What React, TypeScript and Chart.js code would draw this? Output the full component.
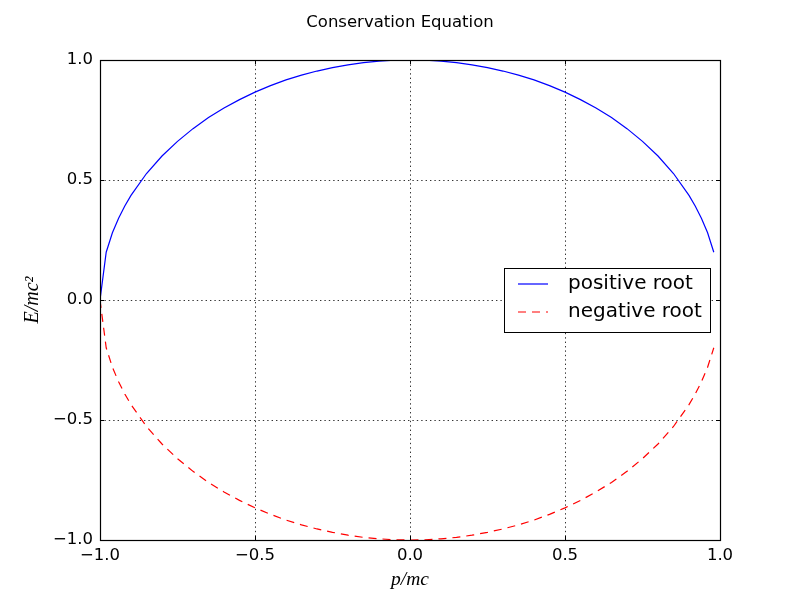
import { useEffect, useRef } from "react"
import { Chart, registerables } from "chart.js"

Chart.register(...registerables)

// momentum p/mc, sampled along the curve
const momentum = [
  -1.0, -0.98, -0.96, -0.94, -0.92, -0.9, -0.85, -0.8, -0.75, -0.7, -0.65, -0.6, -0.55, -0.5,
  -0.45, -0.4, -0.35, -0.3, -0.25, -0.2, -0.15, -0.1, -0.05, 0.0, 0.05, 0.1, 0.15, 0.2, 0.25,
  0.3, 0.35, 0.4, 0.45, 0.5, 0.55, 0.6, 0.65, 0.7, 0.75, 0.8, 0.85, 0.9, 0.92, 0.94, 0.96, 0.98,
]

const positiveRoot = [
  0.0, 0.199, 0.28, 0.341, 0.392, 0.436, 0.527, 0.6, 0.661, 0.714, 0.76, 0.8, 0.835, 0.866,
  0.893, 0.917, 0.937, 0.954, 0.968, 0.98, 0.989, 0.995, 0.999, 1.0, 0.999, 0.995, 0.989, 0.98,
  0.968, 0.954, 0.937, 0.917, 0.893, 0.866, 0.835, 0.8, 0.76, 0.714, 0.661, 0.6, 0.527, 0.436,
  0.392, 0.341, 0.28, 0.199,
]

const negativeRoot = [
  -0.0, -0.199, -0.28, -0.341, -0.392, -0.436, -0.527, -0.6, -0.661, -0.714, -0.76, -0.8, -0.835,
  -0.866, -0.893, -0.917, -0.937, -0.954, -0.968, -0.98, -0.989, -0.995, -0.999, -1.0, -0.999,
  -0.995, -0.989, -0.98, -0.968, -0.954, -0.937, -0.917, -0.893, -0.866, -0.835, -0.8, -0.76,
  -0.714, -0.661, -0.6, -0.527, -0.436, -0.392, -0.341, -0.28, -0.199,
]

const seriesLabels = ["positive root", "negative root"]
const xTicks = [-1.0, -0.5, 0.0, 0.5, 1.0]
const yTicks = [-1.0, -0.5, 0.0, 0.5, 1.0]

const SANS = "'DejaVu Sans', sans-serif"
const SERIF = "'Liberation Serif', 'DejaVu Serif', serif"

const fmt = (v: number) => v.toFixed(1).replace("-", "\u2212")

// frame, inward ticks, title and legend drawn the matplotlib way
const decorations = {
  id: "decorations",
  afterDraw(chart: Chart) {
    const { ctx, chartArea: a } = chart
    const xs = chart.scales.x
    const ys = chart.scales.y
    ctx.save()
    ctx.strokeStyle = "#000"
    ctx.lineWidth = 1.2
    ctx.strokeRect(a.left + 0.5, a.top + 0.5, a.right - a.left, a.bottom - a.top)
    ctx.lineWidth = 1
    ctx.beginPath()
    for (const t of xTicks) {
      const px = Math.round(xs.getPixelForValue(t)) + 0.5
      ctx.moveTo(px, a.bottom)
      ctx.lineTo(px, a.bottom - 4)
      ctx.moveTo(px, a.top)
      ctx.lineTo(px, a.top + 4)
    }
    for (const t of yTicks) {
      const py = Math.round(ys.getPixelForValue(t)) + 0.5
      ctx.moveTo(a.left, py)
      ctx.lineTo(a.left + 4, py)
      ctx.moveTo(a.right, py)
      ctx.lineTo(a.right - 4, py)
    }
    ctx.stroke()

    ctx.fillStyle = "#000"
    ctx.font = `16.5px ${SANS}`
    ctx.textAlign = "center"
    ctx.textBaseline = "alphabetic"
    ctx.fillText("Conservation Equation", 400, 26.5)

    // legend
    const bx = 504
    const by = 268
    const bw = 206
    const bh = 64
    ctx.fillStyle = "#fff"
    ctx.fillRect(bx, by, bw, bh)
    ctx.strokeRect(bx + 0.5, by + 0.5, bw, bh)
    ctx.font = `20px ${SANS}`
    ctx.textAlign = "left"
    ctx.textBaseline = "middle"
    chart.data.datasets.forEach((ds: any, i: number) => {
      const cy = by + 16 + i * 28
      ctx.strokeStyle = ds.borderColor
      ctx.lineWidth = 1.2
      ctx.setLineDash(ds.borderDash || [])
      ctx.beginPath()
      ctx.moveTo(518, cy)
      ctx.lineTo(548, cy)
      ctx.stroke()
      ctx.setLineDash([])
      ctx.fillStyle = "#000"
      ctx.fillText(ds.label, 568, cy)
    })
    ctx.restore()
  },
}

export default function App() {
  const canvasRef = useRef<HTMLCanvasElement | null>(null)

  useEffect(() => {
    document.body.style.margin = "0"
    if (!canvasRef.current) return
    const chart = new Chart(canvasRef.current, {
      type: "line",
      data: {
        datasets: [
          {
            label: seriesLabels[0],
            data: momentum.map((p, i) => ({ x: p, y: positiveRoot[i] })),
            borderColor: "#0000ff",
            borderWidth: 1.2,
            pointRadius: 0,
            tension: 0,
          },
          {
            label: seriesLabels[1],
            data: momentum.map((p, i) => ({ x: p, y: negativeRoot[i] })),
            borderColor: "#ff0000",
            borderWidth: 1.2,
            borderDash: [8, 6],
            pointRadius: 0,
            tension: 0,
          },
        ],
      },
      options: {
        responsive: false,
        animation: false,
        devicePixelRatio: 1,
        layout: { padding: { left: 0, top: 60, right: 80, bottom: 0 } },
        plugins: {
          legend: { display: false },
          title: { display: false },
          tooltip: { enabled: false },
        },
        scales: {
          x: {
            type: "linear",
            min: -1,
            max: 1,
            afterFit: (s: any) => {
              s.height = 60
            },
            afterBuildTicks: (s: any) => {
              s.ticks = xTicks.map((v) => ({ value: v }))
            },
            grid: { color: "#000", lineWidth: 0.8, drawTicks: false },
            border: { display: false, dash: [1.4, 3] },
            ticks: {
              color: "#000",
              padding: 6,
              font: { family: SANS, size: 16.5 },
              maxRotation: 0,
              callback: (v: any) => fmt(Number(v)),
            },
            title: {
              display: true,
              text: "p/mc",
              color: "#000",
              font: { family: SERIF, size: 19.5, style: "italic" },
              padding: { top: 0, bottom: 8 },
            },
          },
          y: {
            type: "linear",
            min: -1,
            max: 1,
            afterFit: (s: any) => {
              s.width = 100
            },
            afterBuildTicks: (s: any) => {
              s.ticks = yTicks.map((v) => ({ value: v }))
            },
            grid: { color: "#000", lineWidth: 0.8, drawTicks: false },
            border: { display: false, dash: [1.4, 3] },
            ticks: {
              color: "#000",
              padding: 7,
              font: { family: SANS, size: 16.5 },
              callback: (v: any) => fmt(Number(v)),
            },
            title: {
              display: true,
              text: "E/mc\u00b2",
              color: "#000",
              font: { family: SERIF, size: 20, style: "italic" },
              padding: { top: 21, bottom: 0 },
            },
          },
        },
      },
      plugins: [decorations],
    })
    return () => chart.destroy()
  }, [])

  return <canvas ref={canvasRef} width={800} height={600} style={{ display: "block" }} />
}
